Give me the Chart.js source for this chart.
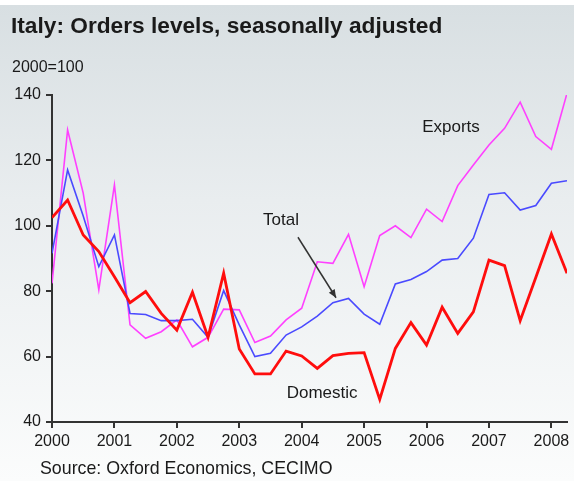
<!DOCTYPE html>
<html>
<head>
<meta charset="utf-8">
<script src="https://cdn.jsdelivr.net/npm/chart.js@4/dist/chart.umd.min.js"></script>
<style>
  html, body { margin: 0; padding: 0; background: #ffffff; }
  #wrap { position: relative; width: 574px; height: 481px;
    background: linear-gradient(to bottom, #ffffff 0px, #ffffff 5px, #d8dfe2 5px, #e9edef 200px, #fbfcfc 481px); }
  canvas { display: block; }
</style>
</head>
<body>
<div id="wrap"><canvas id="c" width="574" height="481"></canvas></div>
<script>
// ---- Data ----
const titleText = "Italy: Orders levels, seasonally adjusted";
const unitText = "2000=100";
const sourceText = "Source: Oxford Economics, CECIMO";

const quarters = [
  "2000Q1","2000Q2","2000Q3","2000Q4","2001Q1","2001Q2","2001Q3","2001Q4",
  "2002Q1","2002Q2","2002Q3","2002Q4","2003Q1","2003Q2","2003Q3","2003Q4",
  "2004Q1","2004Q2","2004Q3","2004Q4","2005Q1","2005Q2","2005Q3","2005Q4",
  "2006Q1","2006Q2","2006Q3","2006Q4","2007Q1","2007Q2","2007Q3","2007Q4",
  "2008Q1","2008Q2"
];
const exportsSeries = [82.4, 129.3, 110.0, 80.4, 112.5, 69.7, 65.6, 67.6, 71.2, 63.0, 65.9, 74.5,
  74.3, 64.3, 66.3, 71.2, 74.8, 89.0, 88.5, 97.4, 81.4, 97.0, 100.0, 96.4, 105.1, 101.3,
  112.3, 118.6, 124.7, 129.8, 137.8, 127.3, 123.4, 140.5];
const totalSeries = [91.6, 117.1, 103.0, 87.5, 97.2, 73.2, 72.9, 71.0, 71.0, 71.4, 65.9, 80.2,
  69.7, 60.0, 61.0, 66.6, 69.1, 72.4, 76.5, 77.8, 73.0, 69.9, 82.2, 83.6, 86.0, 89.5,
  90.0, 96.2, 109.6, 110.1, 104.8, 106.2, 113.0, 113.8];
const domesticSeries = [102.5, 107.9, 97.2, 92.1, 84.4, 76.5, 79.9, 73.2, 68.1, 79.7, 65.9, 85.5,
  62.3, 54.7, 54.7, 61.7, 60.2, 56.4, 60.3, 61.0, 61.2, 46.9, 62.5, 70.4, 63.5, 75.1,
  67.1, 73.7, 89.5, 87.8, 71.0, 84.2, 97.5, 85.5];
const yearTicks = [2000, 2001, 2002, 2003, 2004, 2005, 2006, 2007, 2008];
const yTicks = [40, 60, 80, 100, 120, 140];

// quarter label -> decimal year position on the time axis
function qPos(q) { return Number(q.slice(0, 4)) + (Number(q.slice(5)) - 1) / 4; }
function toPoints(vals) { return quarters.map((q, i) => ({ x: qPos(q), y: vals[i] })); }

const FONT = "'Liberation Sans', Arial, sans-serif";
const AXIS = '#333333';

const decor = {
  id: 'decor',
  afterDraw(chart) {
    const ctx = chart.ctx;
    const xs = chart.scales.x, ys = chart.scales.y;
    ctx.save();
    ctx.fillStyle = '#1a1a1a';
    ctx.textBaseline = 'alphabetic';
    ctx.textAlign = 'left';
    ctx.font = "bold 22.7px " + FONT;
    ctx.fillText(titleText, 11, 33);
    ctx.font = "16px " + FONT;
    ctx.fillText(unitText, 12, 72);
    ctx.font = "17.8px " + FONT;
    ctx.fillText(sourceText, 40, 474);

    // series annotations (placed in data coordinates)
    ctx.textBaseline = 'middle';
    ctx.font = "17px " + FONT;
    ctx.fillText("Exports", xs.getPixelForValue(2005.93), ys.getPixelForValue(130.2));
    ctx.fillText("Total", xs.getPixelForValue(2003.38), ys.getPixelForValue(101.8));
    ctx.fillText("Domestic", xs.getPixelForValue(2003.76), ys.getPixelForValue(48.8));

    // arrow to Total line
    const x1 = xs.getPixelForValue(2003.94), y1 = ys.getPixelForValue(96.5);
    const x2 = xs.getPixelForValue(2004.55), y2 = ys.getPixelForValue(78.0);
    ctx.strokeStyle = '#333333';
    ctx.fillStyle = '#333333';
    ctx.lineWidth = 1.5;
    ctx.beginPath(); ctx.moveTo(x1, y1); ctx.lineTo(x2, y2); ctx.stroke();
    const ang = Math.atan2(y2 - y1, x2 - x1), L = 8, W = 3.5;
    ctx.beginPath();
    ctx.moveTo(x2, y2);
    ctx.lineTo(x2 - L * Math.cos(ang) + W * Math.sin(ang), y2 - L * Math.sin(ang) - W * Math.cos(ang));
    ctx.lineTo(x2 - L * Math.cos(ang) - W * Math.sin(ang), y2 - L * Math.sin(ang) + W * Math.cos(ang));
    ctx.closePath(); ctx.fill();
    ctx.restore();
  }
};

new Chart(document.getElementById('c'), {
  type: 'line',
  data: {
    datasets: [
      { label: 'Domestic', data: toPoints(domesticSeries), borderColor: '#ff0d0d', borderWidth: 2.8, pointRadius: 0, tension: 0 },
      { label: 'Total', data: toPoints(totalSeries), borderColor: '#4a4aff', borderWidth: 1.6, pointRadius: 0, tension: 0 },
      { label: 'Exports', data: toPoints(exportsSeries), borderColor: '#ff40ff', borderWidth: 1.6, pointRadius: 0, tension: 0 }
    ]
  },
  options: {
    responsive: false,
    devicePixelRatio: 1,
    animation: false,
    layout: { padding: { top: 95, right: 7, bottom: 30, left: 0 } },
    plugins: { legend: { display: false }, title: { display: false }, tooltip: { enabled: false } },
    scales: {
      x: {
        type: 'linear', min: 2000, max: 2008.25,
        afterFit(s) { s.height = 29; },
        afterBuildTicks(s) { s.ticks = yearTicks.map(v => ({ value: v })); },
        ticks: { callback: v => String(v), color: '#1a1a1a', font: { family: FONT, size: 16 }, padding: 4, maxRotation: 0, autoSkip: false },
        grid: { drawOnChartArea: false, drawTicks: true, tickLength: 6, color: AXIS, lineWidth: 2 },
        border: { color: AXIS, width: 2 }
      },
      y: {
        min: 40, max: 140,
        afterFit(s) { s.width = 52; },
        afterBuildTicks(s) { s.ticks = yTicks.map(v => ({ value: v })); },
        ticks: { callback: v => String(v), color: '#1a1a1a', font: { family: FONT, size: 16 }, padding: 5 },
        grid: { drawOnChartArea: false, drawTicks: true, tickLength: 6, color: AXIS, lineWidth: 2 },
        border: { color: AXIS, width: 2 }
      }
    }
  },
  plugins: [decor]
});
</script>
</body>
</html>
